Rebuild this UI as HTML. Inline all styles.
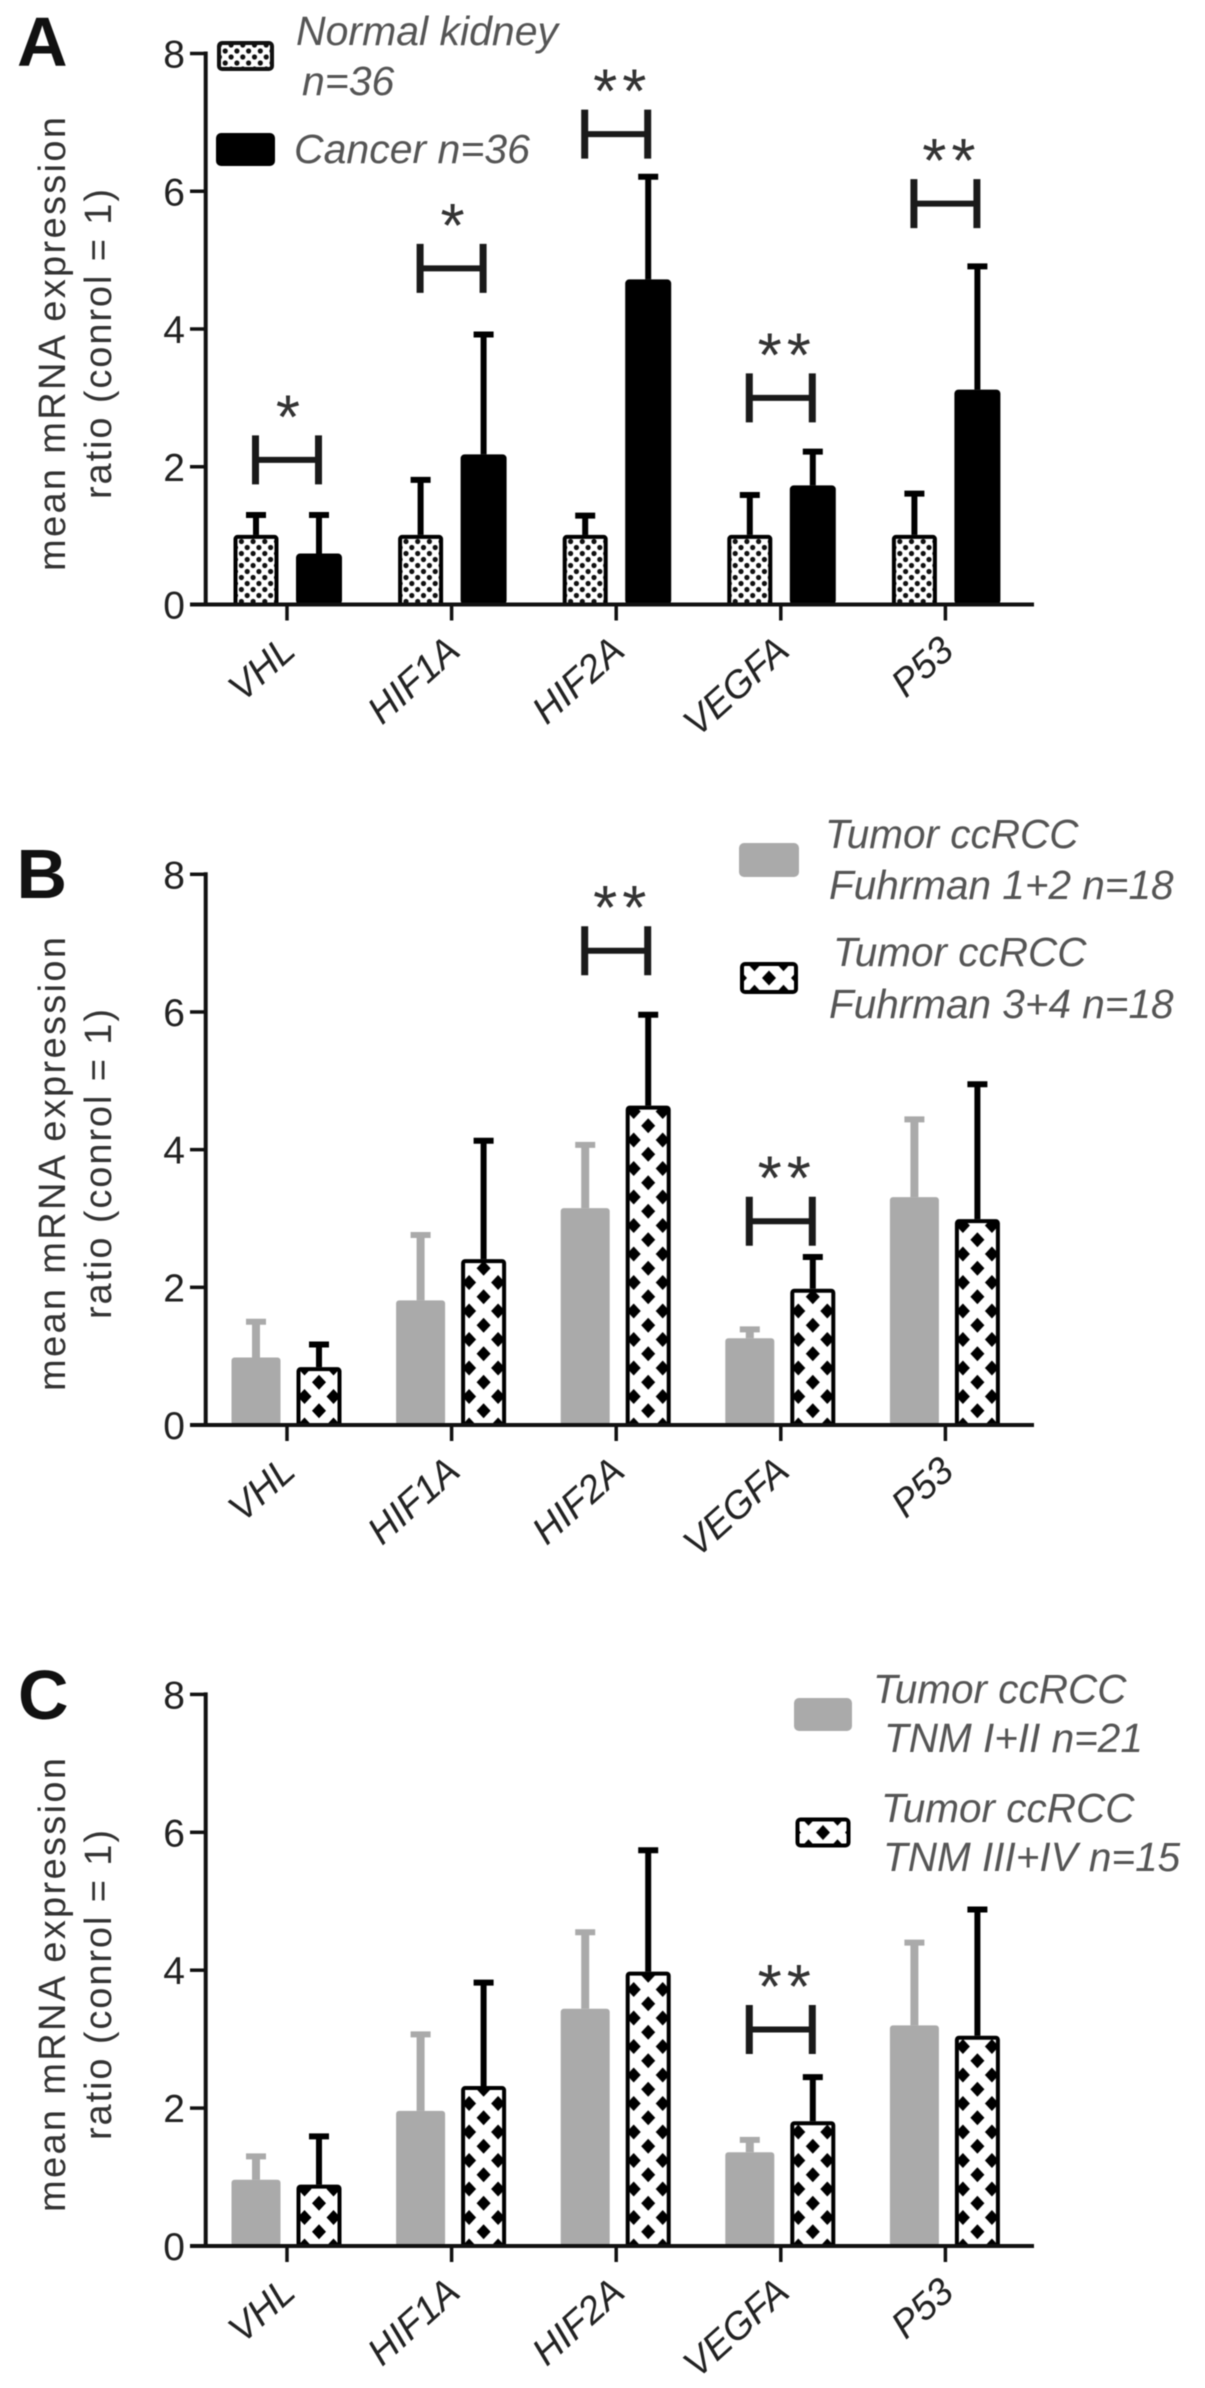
<!DOCTYPE html>
<html lang="en">
<head>
<meta charset="utf-8">
<title>mRNA expression ratios</title>
<style>
html,body{margin:0;padding:0;background:#fff;}
svg{display:block;font-family:"Liberation Sans",sans-serif;filter:blur(0.5px);}
.lg{font-size:40.5px;font-style:italic;fill:#555;}
.pl{font-size:70px;font-weight:bold;fill:#111;}
</style>
</head>
<body>
<svg id="figure" xmlns="http://www.w3.org/2000/svg" width="1205" height="2388" viewBox="0 0 1205 2388">
<defs>
<pattern id="dots" patternUnits="userSpaceOnUse" width="11.7" height="12">
<rect width="11.7" height="12" fill="#fff"/>
<circle cx="2.9" cy="3" r="2.6" fill="#111"/>
<circle cx="8.8" cy="9" r="2.6" fill="#111"/>
</pattern>
<pattern id="diamonds" patternUnits="userSpaceOnUse" width="29" height="28.5">
<rect width="29" height="28.5" fill="#fff"/>
<polygon points="0,6.75 7,14.25 0,21.75 -7,14.25" fill="#000"/>
<polygon points="29,6.75 36,14.25 29,21.75 22,14.25" fill="#000"/>
<polygon points="14.5,-7.5 21.5,0 14.5,7.5 7.5,0" fill="#000"/>
<polygon points="14.5,21 21.5,28.5 14.5,36 7.5,28.5" fill="#000"/>
</pattern>
</defs>
<rect width="1205" height="2388" fill="#fff"/>

<text class="pl" x="17" y="66">A</text>
<text class="pl" x="16.5" y="898">B</text>
<text class="pl" x="18" y="1719">C</text>

<g>
<rect x="219" y="43" width="53" height="26" rx="3" fill="url(#dots)" stroke="#111" stroke-width="4"/>
<text class="lg" style="font-size:41px" x="296" y="45">Normal kidney</text>
<text class="lg" style="font-size:41px" x="302" y="95">n=36</text>
<rect x="216" y="133" width="59" height="33" rx="5" fill="#000"/>
<text class="lg" style="font-size:41px" x="294" y="163">Cancer n=36</text>
</g>

<g>
<rect x="739" y="843" width="60" height="34" rx="5" fill="#aaa"/>
<text class="lg" x="825" y="848">Tumor ccRCC</text>
<text class="lg" x="829" y="899">Fuhrman 1+2 n=18</text>
<g transform="translate(769,963.75)">
<rect x="-27" y="0.25" width="54" height="28" rx="3" fill="url(#diamonds)" stroke="#000" stroke-width="4"/>
</g>
<text class="lg" x="833" y="966">Tumor ccRCC</text>
<text class="lg" x="829" y="1018">Fuhrman 3+4 n=18</text>
</g>

<g>
<rect x="794" y="1698" width="58" height="33" rx="5" fill="#aaa"/>
<text class="lg" x="873" y="1703">Tumor ccRCC</text>
<text class="lg" x="884" y="1752">TNM I+II n=21</text>
<g transform="translate(823,1818.25)">
<rect x="-25.5" y="1.25" width="51" height="26" rx="3" fill="url(#diamonds)" stroke="#000" stroke-width="4"/>
</g>
<text class="lg" x="881" y="1822">Tumor ccRCC</text>
<text class="lg" x="883" y="1871">TNM III+IV n=15</text>
</g>
</svg>

<script>
const categories = ['VHL', 'HIF1A', 'HIF2A', 'VEGFA', 'P53'];
const yTicks = [0, 2, 4, 6, 8];

const aFirstMeans = [1.01, 1.01, 1.01, 1.01, 1.01];
const aFirstErrTops = [1.30, 1.81, 1.29, 1.59, 1.61];
const aSecondMeans = [0.74, 2.18, 4.72, 1.73, 3.12];
const aSecondErrTops = [1.30, 3.92, 6.21, 2.22, 4.91];
const aBracketCats = ['VHL', 'HIF1A', 'HIF2A', 'VEGFA', 'P53'];
const aBracketLevels = [2.10, 4.88, 6.83, 3.0, 5.82];
const aBracketStars = ['*', '*', '**', '**', '**'];

const bFirstMeans = [0.98, 1.81, 3.15, 1.26, 3.31];
const bFirstErrTops = [1.50, 2.76, 4.07, 1.39, 4.44];
const bSecondMeans = [0.84, 2.41, 4.64, 1.98, 2.99];
const bSecondErrTops = [1.17, 4.13, 5.96, 2.44, 4.95];
const bBracketCats = ['HIF2A', 'VEGFA'];
const bBracketLevels = [6.89, 2.96];
const bBracketStars = ['**', '**'];

const cFirstMeans = [0.96, 1.96, 3.44, 1.36, 3.20];
const cFirstErrTops = [1.30, 3.07, 4.55, 1.54, 4.40];
const cSecondMeans = [0.89, 2.32, 3.98, 1.81, 3.05];
const cSecondErrTops = [1.59, 3.82, 5.74, 2.45, 4.88];
const cBracketCats = ['VEGFA'];
const cBracketLevels = [3.14];
const cBracketStars = ['**'];

const svg = document.getElementById('figure');
const NS = 'http://www.w3.org/2000/svg';

function mk(parent, tag, attrs, text) {
  const n = document.createElementNS(NS, tag);
  for (const k in attrs) n.setAttribute(k, attrs[k]);
  if (text !== undefined) n.textContent = text;
  parent.appendChild(n);
  return n;
}

function xScale(i) { return 287 + i * 164.6; }

function drawPanel(id, y0, y8, firstMeans, firstTops, secondMeans, secondTops, brCats, brLevels, brStars, firstStyle, titleCenter) {
  const unit = (y0 - y8) / 8;
  const yScale = v => y0 - v * unit;

  const panel = mk(svg, 'g', {});
  
  

  // error bars
  categories.forEach((cat, i) => {
    const pairs = [[firstTops[i], firstMeans[i], -31, firstStyle === 'dots' ? '#000' : '#aaa', firstStyle === 'dots' ? 6 : 8, 'first'],
                   [secondTops[i], secondMeans[i], 32, '#000', 6, 'second']];
    pairs.forEach(p => {
      const x = xScale(i) + p[2];
      const stem = mk(panel, 'line', {x1: x, x2: x, y1: yScale(p[1]), y2: yScale(p[0]), stroke: p[3], 'stroke-width': p[4]});
      
      
      const cap = mk(panel, 'line', {x1: x - 10, x2: x + 10, y1: yScale(p[0]), y2: yScale(p[0]), stroke: p[3], 'stroke-width': 6});
      
      
    });
  });

  // bars
  categories.forEach((cat, i) => {
    const g1 = mk(panel, 'g', {transform: 'translate(' + (xScale(i) - 31) + ',' + y0 + ')'});
    
    
    const h1 = firstMeans[i] * unit;
    let b1;
    if (firstStyle === 'dots') {
      b1 = mk(g1, 'rect', {x: -20.5, y: -h1 + 2, width: 41, height: h1 - 2, rx: 2, fill: 'url(#dots)', stroke: '#000', 'stroke-width': 4});
    } else {
      b1 = mk(g1, 'rect', {x: -24.5, y: -h1, width: 49, height: h1, rx: 3, fill: '#aaa'});
    }
    
    

    const g2 = mk(panel, 'g', {transform: 'translate(' + (xScale(i) + 32) + ',' + y0 + ')'});
    
    
    const h2 = secondMeans[i] * unit;
    let b2;
    if (firstStyle === 'dots') {
      b2 = mk(g2, 'rect', {x: -23, y: -h2, width: 46, height: h2, rx: 4, fill: '#000'});
    } else {
      b2 = mk(g2, 'rect', {x: -20.5, y: -h2 + 2, width: 41, height: h2 - 2, rx: 2, fill: 'url(#diamonds)', stroke: '#000', 'stroke-width': 4});
    }
    
    
  });

  // axes
  const yAxis = mk(panel, 'line', {x1: 205.7, x2: 205.7, y1: y8 - 2, y2: y0 + 2, stroke: '#111', 'stroke-width': 4});
  
  
  const xAxis = mk(panel, 'line', {x1: 190, x2: 1034, y1: y0, y2: y0, stroke: '#111', 'stroke-width': 4});
  
  

  yTicks.forEach(t => {
    const tm = mk(panel, 'line', {x1: 190, x2: 206, y1: yScale(t), y2: yScale(t), stroke: '#111', 'stroke-width': 3.5});
    
    
    const tl = mk(panel, 'text', {x: 185, y: yScale(t) + 14, 'text-anchor': 'end', 'font-size': 39, fill: '#222'}, String(t));
    
    
  });

  categories.forEach((cat, i) => {
    const x = xScale(i);
    const tm = mk(panel, 'line', {x1: x, x2: x, y1: y0, y2: y0 + 16, stroke: '#111', 'stroke-width': 3.5});
    
    
    const lx = x + 10.5, ly = y0 + 49;
    const tl = mk(panel, 'text', {x: lx, y: ly, 'text-anchor': 'end', 'font-size': 38, 'font-style': 'italic', fill: '#222', transform: 'rotate(-42 ' + lx + ' ' + ly + ')'}, cat);
    
    
  });

  // axis title
  const t1 = mk(panel, 'text', {x: 65, y: titleCenter, 'text-anchor': 'middle', 'font-size': 38, fill: '#333', textLength: 454, lengthAdjust: 'spacing', transform: 'rotate(-90 65 ' + titleCenter + ')'}, 'mean mRNA expression');
  
  
  const t2 = mk(panel, 'text', {x: 111, y: titleCenter, 'text-anchor': 'middle', 'font-size': 38, fill: '#333', textLength: 310, lengthAdjust: 'spacing', transform: 'rotate(-90 111 ' + titleCenter + ')'}, 'ratio (conrol = 1)');
  
  

  // significance brackets
  brCats.forEach((cat, k) => {
    const x = xScale(categories.indexOf(cat));
    const y = yScale(brLevels[k]);
    const g = mk(panel, 'g', {});
    
    
    const h = mk(g, 'line', {x1: x - 31.5, x2: x + 31.5, y1: y, y2: y, stroke: '#1a1a1a', 'stroke-width': 6});
    
    
    const l = mk(g, 'line', {x1: x - 31.5, x2: x - 31.5, y1: y - 24.5, y2: y + 24.5, stroke: '#1a1a1a', 'stroke-width': 7});
    
    
    const r = mk(g, 'line', {x1: x + 31.5, x2: x + 31.5, y1: y - 24.5, y2: y + 24.5, stroke: '#1a1a1a', 'stroke-width': 7});
    
    
    const s = mk(g, 'text', {x: x + (brStars[k].length === 2 ? 6 : 3.5), y: y - 24.5 + 3, 'text-anchor': 'middle', 'font-size': 62, 'letter-spacing': 5, fill: '#333'}, brStars[k]);
    
    
  });
}

drawPanel('a', 604.5, 53.5, aFirstMeans, aFirstErrTops, aSecondMeans, aSecondErrTops, aBracketCats, aBracketLevels, aBracketStars, 'dots', 344);
drawPanel('b', 1425, 874.3, bFirstMeans, bFirstErrTops, bSecondMeans, bSecondErrTops, bBracketCats, bBracketLevels, bBracketStars, 'gray', 1164);
drawPanel('c', 2246, 1694.4, cFirstMeans, cFirstErrTops, cSecondMeans, cSecondErrTops, cBracketCats, cBracketLevels, cBracketStars, 'gray', 1985);
</script>
</body>
</html>
